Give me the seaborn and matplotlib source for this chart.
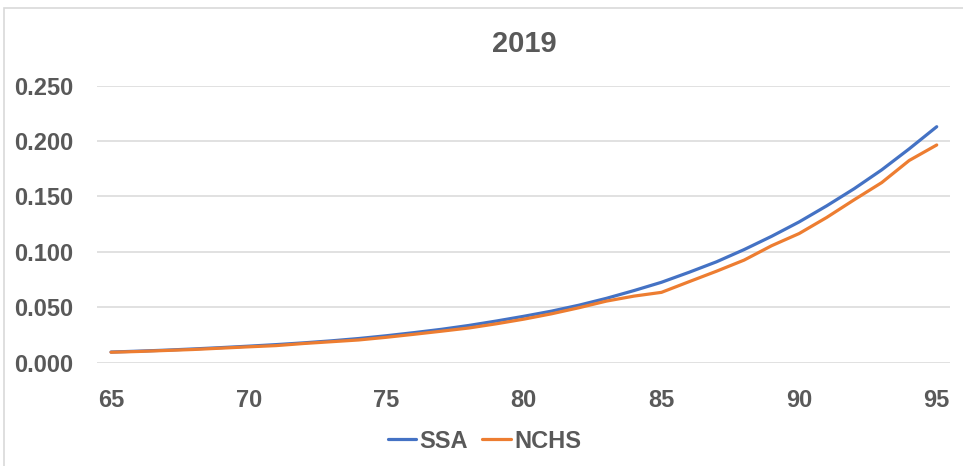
import numpy as np
import pandas as pd
import matplotlib
matplotlib.use("Agg")
import matplotlib.pyplot as plt
import seaborn as sns
from matplotlib.patches import Rectangle

# Data
ages = list(range(65, 96))
ssa = [0.0095, 0.0103, 0.0112, 0.0123, 0.0135, 0.0148, 0.0162, 0.0178, 0.0196, 0.0217,
       0.0242, 0.0270, 0.0300, 0.0335, 0.0375, 0.0418, 0.0464, 0.0518, 0.0580, 0.0650,
       0.0725, 0.0815, 0.0910, 0.1020, 0.1140, 0.1270, 0.1415, 0.1570, 0.1740, 0.1930,
       0.2130]
nchs = [0.0093, 0.0100, 0.0109, 0.0118, 0.0130, 0.0142, 0.0153, 0.0172, 0.0188, 0.0204,
        0.0228, 0.0255, 0.0283, 0.0312, 0.0350, 0.0392, 0.0440, 0.0495, 0.0555, 0.0600,
        0.0634, 0.0730, 0.0825, 0.0925, 0.1055, 0.1165, 0.1310, 0.1470, 0.1625, 0.1825,
        0.1965]
series_names = ["SSA", "NCHS"]
x_ticks = [65, 70, 75, 80, 85, 90, 95]
y_ticks = [0.0, 0.05, 0.10, 0.15, 0.20, 0.25]

df = pd.DataFrame({
    "Age": ages * 2,
    "Rate": ssa + nchs,
    "Source": [series_names[0]] * len(ages) + [series_names[1]] * len(ages),
})

sns.set_theme(style="white")
plt.rcParams["font.family"] = ["Liberation Sans", "DejaVu Sans"]
text_color = "#595959"

fig = plt.figure(figsize=(9.63, 4.66), dpi=100)
ax = fig.add_axes([0.101, 0.222, 0.886, 0.594])

sns.lineplot(data=df, x="Age", y="Rate", hue="Source",
             palette=["#4472C4", "#ED7D31"], linewidth=2.3, ax=ax, legend=False)

ax.set_xlim(64.5, 95.5)
ax.set_ylim(0, 0.25)
ax.set_xticks(x_ticks)
ax.set_yticks(y_ticks)
ax.set_yticklabels([f"{v:.3f}" for v in y_ticks])
ax.yaxis.grid(True, color="#D9D9D9", linewidth=1.1)
ax.set_axisbelow(True)
for s in ax.spines.values():
    s.set_visible(False)
ax.tick_params(axis="both", length=0, labelsize=17, labelcolor=text_color)
ax.tick_params(axis="y", pad=17)
ax.tick_params(axis="x", pad=19)
for lbl in ax.get_xticklabels() + ax.get_yticklabels():
    lbl.set_fontweight("bold")
ax.set_xlabel("")
ax.set_ylabel("")
ax.set_title("2019", fontsize=21, fontweight="bold", color=text_color, pad=24)

# legend at the bottom
handles = [plt.Line2D([], [], color=c, linewidth=2.3) for c in ["#4472C4", "#ED7D31"]]
leg = fig.legend(handles, series_names, loc="center", bbox_to_anchor=(0.503, 1 - 441 / 466),
                 ncol=2, frameon=False, handlelength=1.2, handletextpad=0.15,
                 columnspacing=0.6, prop={"size": 17, "weight": "bold"})
for t in leg.get_texts():
    t.set_color(text_color)

# chart frame
fig.patches.append(Rectangle((4 / 963, -0.1), 1.2, 1 - 8 / 466 + 0.1,
                             transform=fig.transFigure, fill=False,
                             edgecolor="#D9D9D9", linewidth=1.2))

fig.savefig("out.png", dpi=100)
